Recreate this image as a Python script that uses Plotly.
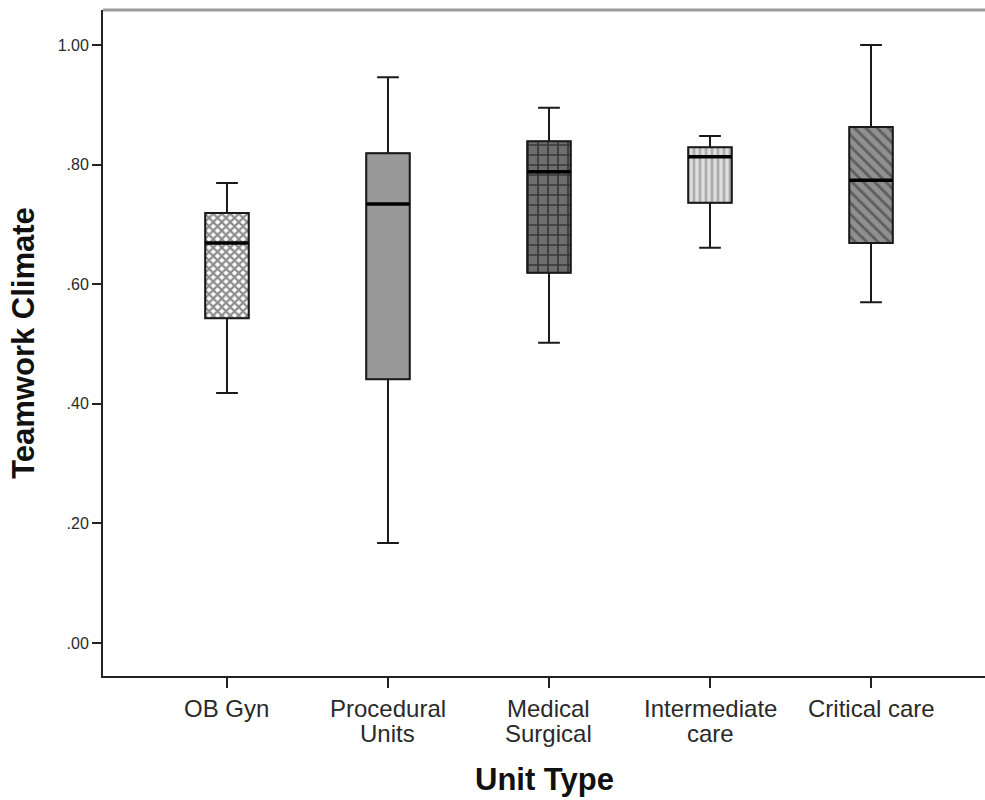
import plotly.graph_objects as go

# Teamwork climate scores by unit type (box summary statistics)
categories = ["OB Gyn", "Procedural<br>Units", "Medical<br>Surgical", "Intermediate<br>care", "Critical care"]
lower_whisker = [0.418, 0.167, 0.502, 0.661, 0.570]
q1_values = [0.543, 0.441, 0.619, 0.736, 0.669]
median_values = [0.669, 0.734, 0.788, 0.813, 0.774]
q3_values = [0.719, 0.819, 0.839, 0.829, 0.863]
upper_whisker = [0.769, 0.946, 0.895, 0.848, 1.000]

y_tick_values = [0.0, 0.2, 0.4, 0.6, 0.8, 1.0]
y_tick_labels = [".00", ".20", ".40", ".60", ".80", "1.00"]

# fill styles per unit type
fill_colors = ["#ffffff", "#999999", "#6e6e6e", "#dedede", "#909090"]
pattern_shapes = ["x", "", "+", "|", "\\"]
pattern_fg = ["#1a1a1a", "#999999", "#000000", "#7a7a7a", "#2a2a2a"]
pattern_size = [6, 8, 10, 6, 8]
pattern_solidity = [0.6, 0.2, 0.3, 0.45, 0.35]

box_width = 0.27
font_family = "Liberation Sans, Arial, sans-serif"

fig = go.Figure()

# patterned box bodies (Q1 to Q3), one trace per unit type
for i, cat in enumerate(categories):
    fig.add_trace(go.Bar(
        x=[cat],
        y=[q3_values[i] - q1_values[i]],
        base=[q1_values[i]],
        width=box_width,
        marker=dict(
            color=fill_colors[i],
            line=dict(color="#333333", width=1.2),
            pattern=dict(
                shape=pattern_shapes[i],
                fgcolor=pattern_fg[i],
                bgcolor=fill_colors[i],
                size=pattern_size[i],
                solidity=pattern_solidity[i],
                fillmode="overlay",
            ),
        ),
        hoverinfo="skip",
        showlegend=False,
    ))

# whiskers and outline
fig.add_trace(go.Box(
    x=categories,
    q1=q1_values,
    median=median_values,
    q3=q3_values,
    lowerfence=lower_whisker,
    upperfence=upper_whisker,
    width=box_width,
    whiskerwidth=0.5,
    fillcolor="rgba(0,0,0,0)",
    line=dict(color="#1a1a1a", width=2),
    boxpoints=False,
    showlegend=False,
))

# thicker median bars
fig.add_trace(go.Box(
    x=categories,
    q1=median_values,
    median=median_values,
    q3=median_values,
    lowerfence=median_values,
    upperfence=median_values,
    width=box_width,
    whiskerwidth=0,
    fillcolor="rgba(0,0,0,0)",
    line=dict(color="#000000", width=3.5),
    boxpoints=False,
    showlegend=False,
))

# category labels, one annotation per text line for tighter line spacing
annotations = []
for cat in categories:
    for i, line_text in enumerate(cat.split("<br>")):
        annotations.append(dict(
            x=cat, xref="x", y=0, yref="paper",
            text=line_text, showarrow=False,
            xanchor="center", yanchor="middle",
            yshift=-32 - 25 * i,
            font=dict(size=24, family=font_family, color="#2a2a2a"),
        ))
annotations.append(dict(
    x=0.5, xref="paper", y=0, yref="paper",
    text="<b>Unit Type</b>", showarrow=False,
    xanchor="center", yanchor="middle", yshift=-103,
    font=dict(size=31, family=font_family, color="#111111"),
))

fig.update_layout(
    width=985,
    height=800,
    margin=dict(l=103, r=0, t=10, b=124),
    paper_bgcolor="white",
    plot_bgcolor="white",
    barmode="overlay",
    boxmode="overlay",
    font=dict(family=font_family, color="#222222"),
    xaxis=dict(
        type="category",
        categoryorder="array",
        categoryarray=categories,
        range=[-0.77, 4.708],
        showline=True,
        linecolor="#222222",
        linewidth=2,
        ticks="outside",
        ticklen=10,
        tickwidth=2,
        tickcolor="#222222",
        showticklabels=False,
        showgrid=False,
        zeroline=False,
    ),
    yaxis=dict(
        range=[-0.0552, 1.0585],
        tickvals=y_tick_values,
        ticktext=y_tick_labels,
        showline=True,
        linecolor="#222222",
        linewidth=2,
        ticks="outside",
        ticklen=9,
        tickwidth=2,
        tickcolor="#222222",
        showgrid=False,
        zeroline=False,
        tickfont=dict(size=16, family=font_family, color="#2a2a2a"),
        title=dict(text="<b>Teamwork Climate</b>", font=dict(size=31, family=font_family, color="#111111"), standoff=14),
    ),
    annotations=annotations,
    shapes=[
        dict(type="line", xref="paper", yref="paper", x0=0, x1=1, y0=1, y1=1,
             line=dict(color="#9a9a9a", width=3)),
    ],
)

fig.write_html("out.html")
